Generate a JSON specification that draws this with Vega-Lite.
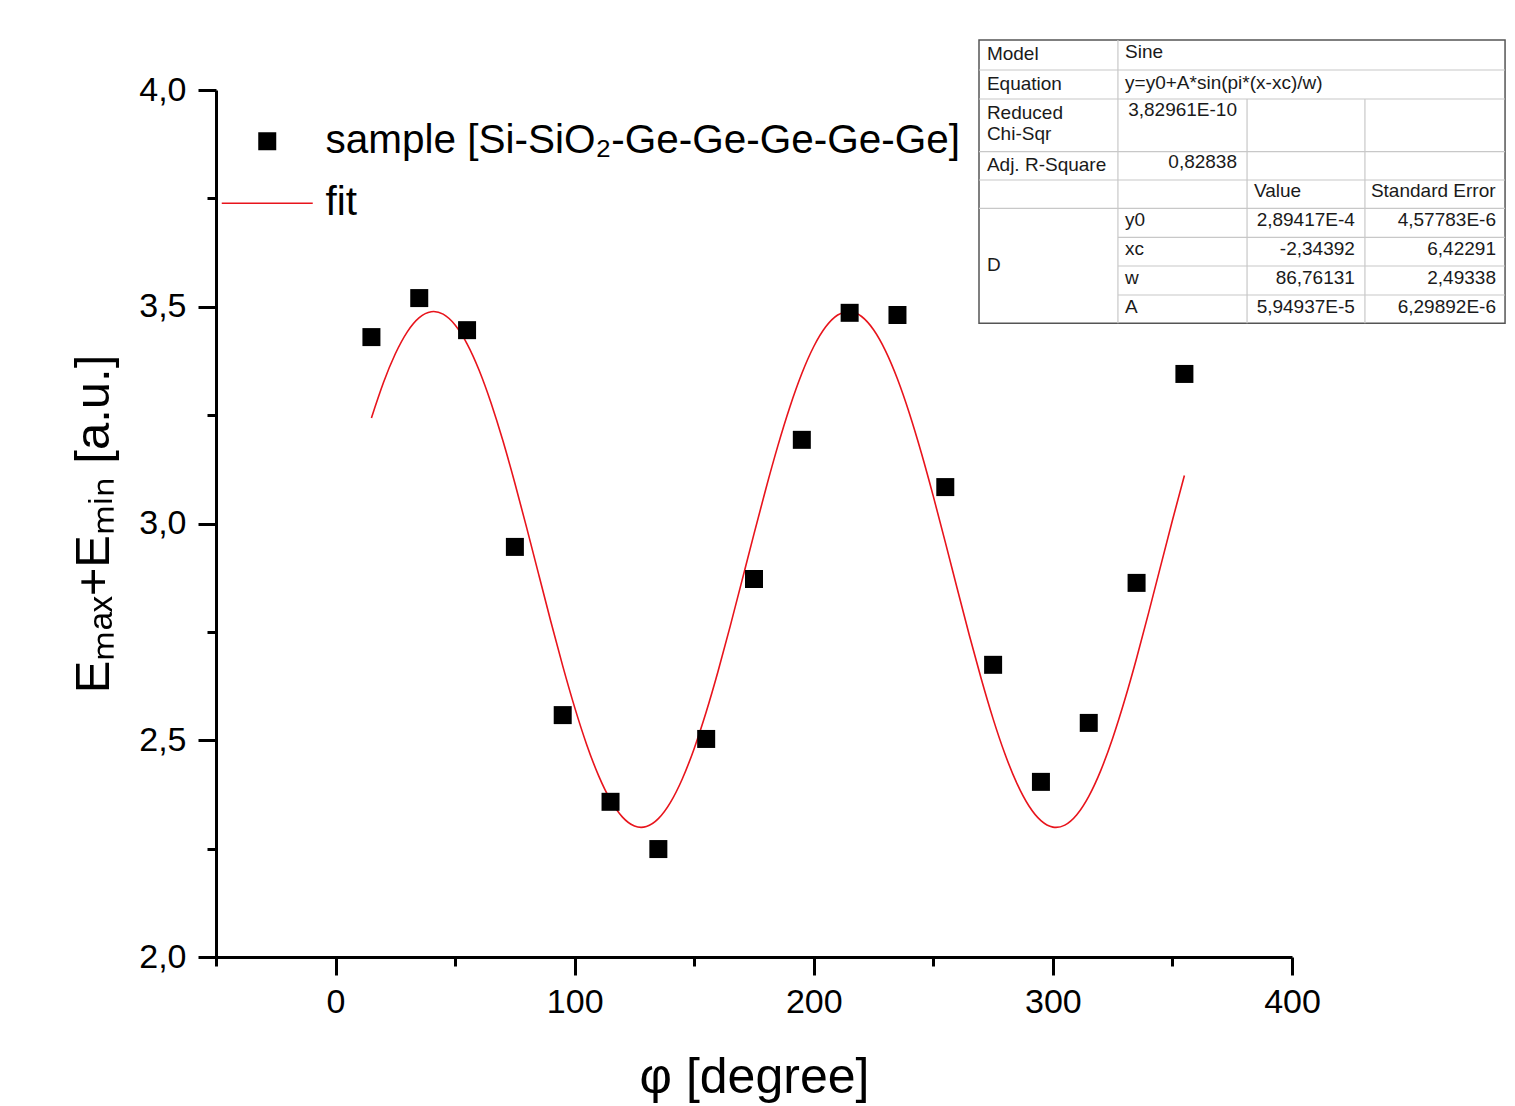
{
  "$schema": "https://vega.github.io/schema/vega-lite/v6.json",
  "width": 1076,
  "height": 867,
  "autosize": {"type": "none"},
  "padding": {"left": 216, "top": 90, "right": 223, "bottom": 149},
  "background": "white",
  "config": {
    "font": "Liberation Sans",
    "view": {"stroke": null},
    "axis": {"grid": false}
  },
  "datasets": {
    "pts": [
      {"phi": 15, "E": 3.430}, {"phi": 35, "E": 3.520}, {"phi": 55, "E": 3.446},
      {"phi": 75, "E": 2.946}, {"phi": 95, "E": 2.558}, {"phi": 115, "E": 2.358},
      {"phi": 135, "E": 2.249}, {"phi": 155, "E": 2.503}, {"phi": 175, "E": 2.872},
      {"phi": 195, "E": 3.193}, {"phi": 215, "E": 3.486}, {"phi": 235, "E": 3.481},
      {"phi": 255, "E": 3.084}, {"phi": 275, "E": 2.674}, {"phi": 295, "E": 2.404},
      {"phi": 315, "E": 2.540}, {"phi": 335, "E": 2.863}, {"phi": 355, "E": 3.345}
    ],
    "fit": [
      {"phi": 15, "E": 3.2436}, {"phi": 20, "E": 3.3245}, {"phi": 25, "E": 3.3915},
      {"phi": 30, "E": 3.4421}, {"phi": 35, "E": 3.4748}, {"phi": 40, "E": 3.4886},
      {"phi": 45, "E": 3.4829}, {"phi": 50, "E": 3.4579}, {"phi": 55, "E": 3.4146},
      {"phi": 60, "E": 3.3542}, {"phi": 65, "E": 3.2786}, {"phi": 70, "E": 3.1907},
      {"phi": 75, "E": 3.0929}, {"phi": 80, "E": 2.9887}, {"phi": 85, "E": 2.8815},
      {"phi": 90, "E": 2.7745}, {"phi": 95, "E": 2.6715}, {"phi": 100, "E": 2.5758},
      {"phi": 105, "E": 2.4904}, {"phi": 110, "E": 2.4183}, {"phi": 115, "E": 2.3617},
      {"phi": 120, "E": 2.3226}, {"phi": 125, "E": 2.3020}, {"phi": 130, "E": 2.3009},
      {"phi": 135, "E": 2.3191}, {"phi": 140, "E": 2.3561}, {"phi": 145, "E": 2.4107},
      {"phi": 150, "E": 2.4812}, {"phi": 155, "E": 2.5651}, {"phi": 160, "E": 2.6597},
      {"phi": 165, "E": 2.7621}, {"phi": 170, "E": 2.8687}, {"phi": 175, "E": 2.9761},
      {"phi": 180, "E": 3.0809}, {"phi": 185, "E": 3.1796}, {"phi": 190, "E": 3.2689},
      {"phi": 195, "E": 3.3460}, {"phi": 200, "E": 3.4083}, {"phi": 205, "E": 3.4537},
      {"phi": 210, "E": 3.4809}, {"phi": 215, "E": 3.4889}, {"phi": 220, "E": 3.4775},
      {"phi": 225, "E": 3.4469}, {"phi": 230, "E": 3.3983}, {"phi": 235, "E": 3.3333},
      {"phi": 240, "E": 3.2538}, {"phi": 245, "E": 3.1626}, {"phi": 250, "E": 3.0626},
      {"phi": 255, "E": 2.9571}, {"phi": 260, "E": 2.8496}, {"phi": 265, "E": 2.7434},
      {"phi": 270, "E": 2.6423}, {"phi": 275, "E": 2.5493}, {"phi": 280, "E": 2.4676},
      {"phi": 285, "E": 2.3999}, {"phi": 290, "E": 2.3483}, {"phi": 295, "E": 2.3145},
      {"phi": 300, "E": 2.2996}, {"phi": 305, "E": 2.3043}, {"phi": 310, "E": 2.3282},
      {"phi": 315, "E": 2.3706}, {"phi": 320, "E": 2.4300}, {"phi": 325, "E": 2.5047},
      {"phi": 330, "E": 2.5921}, {"phi": 335, "E": 2.6893}, {"phi": 340, "E": 2.7933},
      {"phi": 345, "E": 2.9005}, {"phi": 350, "E": 3.0075}, {"phi": 355, "E": 3.1109}
    ],
    "tblBox": [
      {"x": 269.1, "x2": 489.1, "y": 4.1153, "y2": 3.4618}
    ],
    "tblLines": [
      {"x": 269.1, "x2": 489.1, "y": 4.0461, "y2": 4.0461},
      {"x": 269.1, "x2": 489.1, "y": 3.9792, "y2": 3.9792},
      {"x": 269.1, "x2": 489.1, "y": 3.8577, "y2": 3.8577},
      {"x": 269.1, "x2": 489.1, "y": 3.7924, "y2": 3.7924},
      {"x": 269.1, "x2": 489.1, "y": 3.7271, "y2": 3.7271},
      {"x": 327.2, "x2": 489.1, "y": 3.6602, "y2": 3.6602},
      {"x": 327.2, "x2": 489.1, "y": 3.5940, "y2": 3.5940},
      {"x": 327.2, "x2": 489.1, "y": 3.5271, "y2": 3.5271},
      {"x": 327.2, "x2": 327.2, "y": 4.1153, "y2": 3.4618},
      {"x": 381.2, "x2": 381.2, "y": 3.9792, "y2": 3.4618},
      {"x": 430.5, "x2": 430.5, "y": 3.9792, "y2": 3.4618}
    ],
    "tblLeft": [
      {"x": 272.4, "y": 4.0824, "t": "Model"},
      {"x": 330.2, "y": 4.0877, "t": "Sine"},
      {"x": 272.4, "y": 4.0131, "t": "Equation"},
      {"x": 330.2, "y": 4.0168, "t": "y=y0+A*sin(pi*(x-xc)/w)"},
      {"x": 272.4, "y": 3.9476, "t": "Reduced"},
      {"x": 272.4, "y": 3.8985, "t": "Chi-Sqr"},
      {"x": 272.4, "y": 3.8277, "t": "Adj. R-Square"},
      {"x": 384.1, "y": 3.7663, "t": "Value"},
      {"x": 433.0, "y": 3.7663, "t": "Standard Error"},
      {"x": 272.4, "y": 3.5963, "t": "D"},
      {"x": 330.2, "y": 3.7001, "t": "y0"},
      {"x": 330.2, "y": 3.6332, "t": "xc"},
      {"x": 330.2, "y": 3.5663, "t": "w"},
      {"x": 330.2, "y": 3.5001, "t": "A"}
    ],
    "tblRight": [
      {"x": 377.0, "y": 3.9539, "t": "3,82961E-10"},
      {"x": 377.0, "y": 3.8332, "t": "0,82838"},
      {"x": 426.3, "y": 3.7001, "t": "2,89417E-4"},
      {"x": 485.3, "y": 3.7001, "t": "4,57783E-6"},
      {"x": 426.3, "y": 3.6332, "t": "-2,34392"},
      {"x": 485.3, "y": 3.6332, "t": "6,42291"},
      {"x": 426.3, "y": 3.5663, "t": "86,76131"},
      {"x": 485.3, "y": 3.5663, "t": "2,49338"},
      {"x": 426.3, "y": 3.5001, "t": "5,94937E-5"},
      {"x": 485.3, "y": 3.5001, "t": "6,29892E-6"}
    ]
  },
  "encoding": {
    "x": {
      "field": "phi", "type": "quantitative",
      "scale": {"domain": [-50, 400], "nice": false, "zero": false},
      "axis": {
        "title": "φ [degree]",
        "values": [-50, 0, 50, 100, 150, 200, 250, 300, 350, 400],
        "labelExpr": "datum.value % 100 === 0 ? datum.label : ''",
        "tickSize": {"condition": {"test": "datum.value % 100 === 0", "value": 18}, "value": 9},
        "tickWidth": 3, "tickColor": "black",
        "domainWidth": 3, "domainColor": "black",
        "labelFontSize": 34, "labelColor": "black", "labelPadding": 10,
        "labelFlush": false, "labelOverlap": false, "labelBound": false,
        "titleFontSize": 50, "titleFontWeight": "normal", "titleColor": "black", "titlePadding": 33
      }
    },
    "y": {
      "field": "E", "type": "quantitative",
      "scale": {"domain": [2, 4], "nice": false, "zero": false},
      "axis": {
        "title": "Eₘₐₓ+Eₘᵢₙ [a.u.]",
        "values": [2, 2.25, 2.5, 2.75, 3, 3.25, 3.5, 3.75, 4],
        "labelExpr": "round(datum.value * 4) % 2 === 0 ? replace(format(datum.value, '.1f'), '.', ',') : ''",
        "tickSize": {"condition": {"test": "round(datum.value * 4) % 2 === 0", "value": 18}, "value": 9},
        "tickWidth": 3, "tickColor": "black",
        "domainWidth": 3, "domainColor": "black",
        "labelFontSize": 34, "labelColor": "black", "labelPadding": 12,
        "labelFlush": false, "labelOverlap": false, "labelBound": false,
        "titleFontSize": 49, "titleFontWeight": "normal", "titleColor": "black", "titlePadding": 20
      }
    }
  },
  "layer": [
    {
      "data": {"name": "fit"},
      "transform": [{"calculate": "'fit'", "as": "series"}],
      "mark": {"type": "line", "strokeWidth": 1.6, "interpolate": "natural"},
      "encoding": {
        "color": {
          "field": "series", "type": "nominal",
          "scale": {"domain": ["sample [Si-SiO₂-Ge-Ge-Ge-Ge-Ge]", "fit"], "range": ["black", "#e8141c"]},
          "legend": {
            "title": null,
            "orient": "none", "legendX": 31, "legendY": 31,
            "padding": 0,
            "symbolSize": 8281,
            "labelFontSize": 40.5, "labelColor": "black", "labelOffset": 38, "labelLimit": 2000,
            "rowPadding": 21,
            "encode": {
              "symbols": {
                "update": {
                  "shape": {"signal": "datum.value === 'fit' ? 'stroke' : 'square'"},
                  "size": {"signal": "datum.value === 'fit' ? 8281 : 324"},
                  "fill": {"signal": "datum.value === 'fit' ? 'transparent' : 'black'"},
                  "stroke": {"signal": "datum.value === 'fit' ? '#e8141c' : 'black'"},
                  "strokeWidth": {"signal": "datum.value === 'fit' ? 1.6 : 0"},
                  "opacity": {"value": 1}
                }
              }
            }
          }
        }
      }
    },
    {
      "data": {"name": "pts"},
      "transform": [{"calculate": "'sample [Si-SiO₂-Ge-Ge-Ge-Ge-Ge]'", "as": "series"}],
      "mark": {"type": "square", "size": 324, "filled": true, "opacity": 1},
      "encoding": {
        "color": {"field": "series", "type": "nominal"}
      }
    },
    {
      "data": {"name": "tblBox"},
      "mark": {"type": "rect", "fill": "white", "stroke": "#555555", "strokeWidth": 1.5},
      "encoding": {
        "x": {"field": "x", "type": "quantitative"},
        "x2": {"field": "x2"},
        "y": {"field": "y", "type": "quantitative"},
        "y2": {"field": "y2"}
      }
    },
    {
      "data": {"name": "tblLines"},
      "mark": {"type": "rule", "stroke": "#c8c8c8", "strokeWidth": 1.2},
      "encoding": {
        "x": {"field": "x", "type": "quantitative"},
        "x2": {"field": "x2"},
        "y": {"field": "y", "type": "quantitative"},
        "y2": {"field": "y2"}
      }
    },
    {
      "data": {"name": "tblLeft"},
      "mark": {"type": "text", "align": "left", "baseline": "middle", "fontSize": 19, "color": "#1a1a1a"},
      "encoding": {
        "x": {"field": "x", "type": "quantitative"},
        "y": {"field": "y", "type": "quantitative"},
        "text": {"field": "t"}
      }
    },
    {
      "data": {"name": "tblRight"},
      "mark": {"type": "text", "align": "right", "baseline": "middle", "fontSize": 19, "color": "#1a1a1a"},
      "encoding": {
        "x": {"field": "x", "type": "quantitative"},
        "y": {"field": "y", "type": "quantitative"},
        "text": {"field": "t"}
      }
    }
  ]
}
